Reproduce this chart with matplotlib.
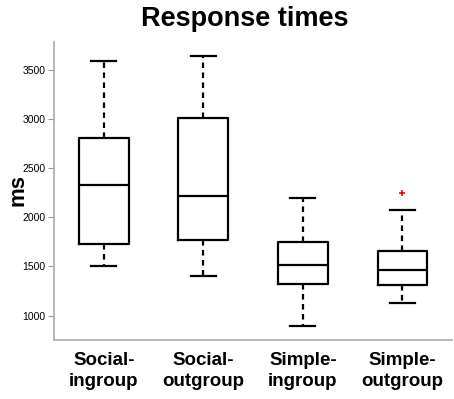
import matplotlib
matplotlib.use("Agg")
import matplotlib.pyplot as plt

plt.rcParams['font.family'] = ['Liberation Sans', 'DejaVu Sans']

# box summary per condition
groups = ['Social-\ningroup', 'Social-\noutgroup', 'Simple-\ningroup', 'Simple-\noutgroup']
whislo = [1505, 1403, 895, 1129]
q1 = [1732, 1769, 1322, 1312]
med = [2325, 2216, 1515, 1464]
q3 = [2803, 3009, 1749, 1657]
whishi = [3585, 3639, 2196, 2074]
fliers = [[], [], [], [2247]]

stats = []
for i in range(len(groups)):
    stats.append({'whislo': whislo[i], 'q1': q1[i], 'med': med[i], 'q3': q3[i],
                  'whishi': whishi[i], 'fliers': fliers[i], 'label': groups[i]})

fig = plt.figure(figsize=(4.54, 3.99), dpi=100)
ax = fig.add_axes([0.119, 0.148, 0.877, 0.747])

lw = 1.6
ax.bxp(stats, positions=[1, 2, 3, 4], widths=0.5,
       boxprops=dict(color='black', linewidth=lw),
       medianprops=dict(color='black', linewidth=lw),
       whiskerprops=dict(color='black', linewidth=lw, linestyle=(0, (2.5, 2))),
       capprops=dict(color='black', linewidth=lw),
       capwidths=0.25,
       flierprops=dict(marker='+', markeredgecolor='red', markersize=5, markeredgewidth=1.2))

ax.set_xlim(0.5, 4.5)
ax.set_ylim(753, 3781)
ax.set_yticks([1000, 1500, 2000, 2500, 3000, 3500])
ax.tick_params(axis='y', direction='out', length=4, color='#999999', labelsize=7.5, pad=2)
ax.tick_params(axis='x', length=0, labelsize=13.5, pad=9)
for lab in ax.get_xticklabels():
    lab.set_fontweight('bold')
    lab.set_linespacing(1.3)

for s in ['top', 'right']:
    ax.spines[s].set_visible(False)
for s in ['left', 'bottom']:
    ax.spines[s].set_color('#aaaaaa')
    ax.spines[s].set_linewidth(1.2)

fig.text(0.04, 0.524, 'ms', rotation=90, ha='center', va='center', fontsize=16, fontweight='bold')
fig.text(0.54, 0.985, 'Response times', ha='center', va='top', fontsize=19.5, fontweight='bold')

plt.savefig('out.png', dpi=100)
